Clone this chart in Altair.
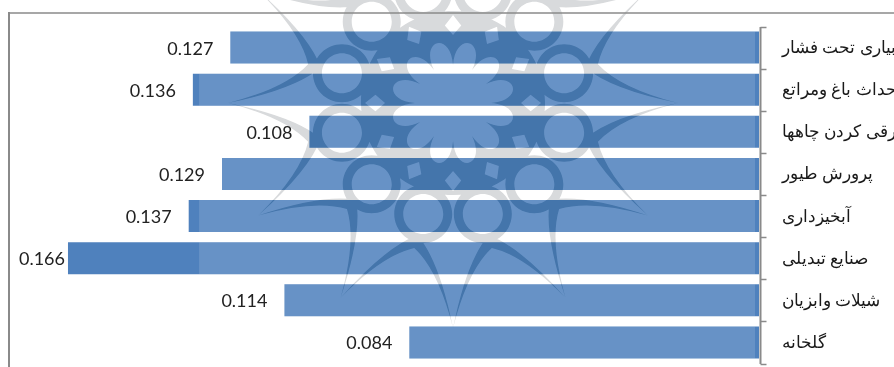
import math

import altair as alt
import pandas as pd

# Branches in drawing order, top to bottom
categories = [
    "آبیاری تحت فشار",
    "احداث باغ ومراتع",
    "برقی کردن چاهها",
    "پرورش طیور",
    "آبخیزداری",
    "صنایع تبدیلی",
    "شیلات وابزیان",
    "گلخانه",
]
values = [0.127, 0.136, 0.108, 0.129, 0.137, 0.166, 0.114, 0.084]

BAR_BLUE = "#4f81bd"
FRAME_GRAY = "#8a8a8a"
PANEL_START = 0.00096
PANEL_END = 0.1345
STAMP_CENTRE = 0.0735
BAR_SHARE = 0.76


def polar(radius, degrees):
    a = math.radians(degrees)
    return f"{radius * math.cos(a):.1f} {radius * math.sin(a):.1f}"


def stamp_path():
    """Twelve-pointed rosette of the background stamp, as one SVG path."""
    parts = []
    # Star outline: outer contour clockwise, inner contour back the other way
    outer = ["M" + polar(225, 0)]
    for k in range(12):
        t = k * 30
        outer.append(f"Q{polar(168, t + 5)} {polar(150, t + 15)}")
        outer.append(f"Q{polar(168, t + 25)} {polar(225, t + 30)}")
    parts.append("".join(outer) + "Z")
    inner = ["M" + polar(225, 0)]
    for k in range(12):
        t = -k * 30
        inner.append(f"Q{polar(158, t - 5)} {polar(137, t - 15)}")
        inner.append(f"Q{polar(158, t - 25)} {polar(225, t - 30)}")
    parts.append("".join(inner) + "Z")
    # Ring of twelve circles
    for k in range(12):
        a = math.radians(15 + k * 30)
        cx, cy = 115 * math.cos(a), 115 * math.sin(a)
        for r, sweep in ((29, 1), (20, 0)):
            parts.append(
                f"M{cx + r:.1f} {cy:.1f}"
                f"A{r} {r} 0 1 {sweep} {cx - r:.1f} {cy:.1f}"
                f"A{r} {r} 0 1 {sweep} {cx + r:.1f} {cy:.1f}Z"
            )
    # Central band with a scalloped flower and small diamonds cut out of it
    parts.append("M92 0A92 92 0 1 1 -92 0A92 92 0 1 1 92 0Z")
    flower = ["M" + polar(38, 0)]
    for k in range(12):
        t = -k * 30
        flower.append(f"C{polar(72, t - 2)} {polar(72, t - 28)} {polar(38, t - 30)}")
    parts.append("".join(flower) + "Z")
    for k in range(12):
        t = k * 30
        parts.append(
            "M" + polar(88, t) + "L" + polar(78, t - 6) + "L" + polar(68, t) + "L" + polar(78, t + 6) + "Z"
        )
    return "".join(parts)


data = pd.DataFrame({"branch": categories, "value": values})
stamp_data = pd.DataFrame({"centre": [STAMP_CENTRE]})

x_scale = alt.Scale(domain=[0.18233, -0.03243], nice=False, zero=False)
y_scale = alt.Scale(domain=categories, range=[26.5, 363.5], paddingInner=0, paddingOuter=0)
y_axis = alt.Axis(
    orient="right",
    offset=-134,
    tickBand="extent",
    domainColor=FRAME_GRAY,
    domainWidth=2,
    tickColor=FRAME_GRAY,
    tickWidth=1.5,
    tickSize=6,
    labelPadding=15,
    labelAlign="left",
    labelFont="Liberation Sans",
    labelFontSize=17,
    labelColor="#1a1a1a",
    labelLimit=400,
    labelOverlap=False,
    grid=False,
)
y_enc = alt.Y("branch:N", scale=y_scale, sort=categories, title=None, axis=y_axis)
x_plain = alt.X("value:Q", scale=x_scale, axis=None)

bars = (
    alt.Chart(data)
    .mark_bar(color=BAR_BLUE, height=alt.RelativeBandSize(band=BAR_SHARE))
    .encode(x=x_plain, x2=alt.datum(0), y=y_enc)
)

# Paler panel across the bars, stopping short of the axis and of the longest bar
panel = (
    alt.Chart(data)
    .transform_calculate(left=f"min(datum.value, {PANEL_END})")
    .mark_bar(color="white", opacity=0.136, height=alt.RelativeBandSize(band=BAR_SHARE))
    .encode(
        x=alt.X("left:Q", scale=x_scale, axis=None),
        x2=alt.datum(PANEL_START),
        y=y_enc,
    )
)

stamp_shape = stamp_path()
stamp_gray = (
    alt.Chart(stamp_data)
    .mark_point(
        shape=stamp_shape, size=4, filled=True, fill="#dcdcdc", strokeWidth=0,
        opacity=1, blend="multiply",
    )
    .encode(x=alt.X("centre:Q", scale=x_scale, axis=None), y=alt.value(103))
)
stamp_blue = (
    alt.Chart(stamp_data)
    .mark_point(
        shape=stamp_shape, size=4, filled=True, fill="#e2eeff", strokeWidth=0,
        opacity=1, blend="color-burn",
    )
    .encode(x=alt.X("centre:Q", scale=x_scale, axis=None), y=alt.value(103))
)

label_base = dict(align="right", baseline="middle", font="Lato", fontSize=18, color="#222222", dy=2)

labels = (
    alt.Chart(data)
    .transform_filter("datum.value < 0.16")
    .mark_text(dx=-17, **label_base)
    .encode(x=x_plain, y=y_enc, text=alt.Text("value:Q", format=".3f"))
)
# The longest bar sits close to the frame, so its label hugs the bar end
label_longest = (
    alt.Chart(data)
    .transform_filter("datum.value >= 0.16")
    .mark_text(dx=-3, **label_base)
    .encode(x=x_plain, y=y_enc, text=alt.Text("value:Q", format=".3f"))
)

frame_top = alt.Chart(stamp_data).mark_rule(color=FRAME_GRAY, strokeWidth=1.5).encode(
    x=alt.value(8), x2=alt.value(894), y=alt.value(13)
)
frame_left = alt.Chart(stamp_data).mark_rule(color=FRAME_GRAY, strokeWidth=2).encode(
    x=alt.value(9), y=alt.value(12), y2=alt.value(367)
)

chart = (
    alt.layer(bars, panel, stamp_gray, stamp_blue, labels, label_longest, frame_top, frame_left)
    .properties(
        width=894,
        height=367,
        padding=0,
        autosize=alt.AutoSizeParams(type="none"),
    )
    .configure_view(stroke=None)
)

chart.save("out.html", embed_options={"renderer": "svg", "actions": False})
